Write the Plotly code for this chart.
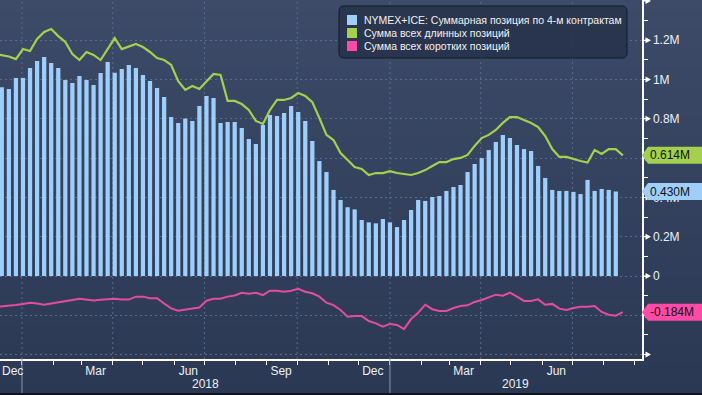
import pandas as pd
import plotly.graph_objects as go

# ---------------- data (millions of contracts) ----------------
DATES = pd.date_range("2017-12-05", "2019-08-20", freq="7D")  # weekly report dates

LONG = [
    1.130, 1.125, 1.117, 1.104,
    1.155, 1.145, 1.206, 1.242, 1.257,
    1.221, 1.191, 1.130, 1.099,
    1.140, 1.125, 1.099, 1.155,
    1.211, 1.155, 1.170, 1.181,
    1.165, 1.140, 1.109, 1.099, 1.074,
    0.992, 0.947, 0.967, 0.952,
    0.992, 1.028, 1.023, 0.891, 0.891,
    0.875, 0.845, 0.789, 0.774,
    0.845, 0.896, 0.896, 0.906,
    0.931, 0.916, 0.885, 0.804, 0.718,
    0.692, 0.626, 0.590, 0.555,
    0.545, 0.514, 0.524, 0.524,
    0.534, 0.524, 0.519, 0.514, 0.524,
    0.539, 0.560, 0.580, 0.580,
    0.595, 0.601, 0.616, 0.662,
    0.702, 0.718, 0.743, 0.779, 0.809,
    0.809, 0.794, 0.779, 0.758,
    0.712, 0.646, 0.606, 0.606,
    0.595, 0.585, 0.577, 0.641, 0.621,
    0.646, 0.646, 0.614,
]

SHORT = [
    -0.158, -0.155, -0.151, -0.148,
    -0.142, -0.136, -0.140, -0.146, -0.140,
    -0.135, -0.129, -0.122, -0.116,
    -0.122, -0.125, -0.121, -0.118,
    -0.116, -0.119, -0.120, -0.105,
    -0.105, -0.113, -0.113, -0.140, -0.165,
    -0.177, -0.170, -0.165, -0.160,
    -0.126, -0.116, -0.116, -0.105, -0.099,
    -0.085, -0.090, -0.085, -0.097,
    -0.075, -0.075, -0.080, -0.075,
    -0.065, -0.080, -0.088, -0.105, -0.136,
    -0.148, -0.173, -0.207, -0.204,
    -0.204, -0.229, -0.241, -0.258,
    -0.244, -0.249, -0.270, -0.219, -0.187,
    -0.146, -0.169, -0.178, -0.178,
    -0.163, -0.153, -0.149, -0.132,
    -0.122, -0.108, -0.095, -0.100, -0.085,
    -0.105, -0.127, -0.127, -0.119,
    -0.146, -0.142, -0.166, -0.173,
    -0.163, -0.156, -0.156, -0.153, -0.183,
    -0.197, -0.202, -0.184,
]

BAR_DATES = DATES[1:-1]
NET = [
    0.960, 0.952, 1.008, 1.008, 1.058, 1.094, 1.115, 1.084, 1.058, 0.997,
    0.982, 1.018, 0.997, 0.972, 1.033, 1.089, 1.035, 1.053, 1.074, 1.058,
    1.023, 0.992, 0.957, 0.911, 0.809, 0.779, 0.801, 0.789, 0.865, 0.916,
    0.906, 0.779, 0.784, 0.784, 0.753, 0.697, 0.672, 0.768, 0.819, 0.814,
    0.830, 0.865, 0.835, 0.789, 0.687, 0.585, 0.529, 0.438, 0.387, 0.350,
    0.339, 0.285, 0.273, 0.268, 0.290, 0.273, 0.249, 0.285, 0.336, 0.387,
    0.382, 0.402, 0.407, 0.433, 0.453, 0.463, 0.529, 0.570, 0.600, 0.641,
    0.682, 0.718, 0.702, 0.667, 0.646, 0.636, 0.560, 0.499, 0.438, 0.433,
    0.433, 0.428, 0.417, 0.489, 0.433, 0.443, 0.438, 0.430,
]

SERIES_NAMES = [
    "NYMEX+ICE: Суммарная позиция по 4-м контрактам",
    "Сумма всех длинных позиций",
    "Сумма всех коротких позиций",
]

Y_TICKS = [-0.4, -0.2, 0, 0.2, 0.4, 0.6, 0.8, 1.0, 1.2, 1.4]
# labels at 0.6M and -0.2M are hidden behind the last-value boxes in the reference
Y_TICK_TEXT = ["", "", "0", "0.2M", "0.4M", "", "0.8M", "1M", "1.2M", ""]

# ---------------- style ----------------
W, H = 702, 395
ML, MR, MT, MB = 0, 60, 0, 36
PW, PH = W - ML - MR, H - MT - MB
X_RANGE = ["2017-12-10 05:00", "2019-09-08"]
Y_RANGE = [-0.4224, 1.4046]

C_BAR = "#9ecffb"
C_LONG = "#a3d14e"
C_SHORT = "#e24d9f"
C_LEG_BAR = "#9ecffb"
C_LEG_LONG = "#a3d14e"
C_LEG_SHORT = "#ff4aa6"
C_GRID = "#5a6c8b"
FONT = "Liberation Sans"
TXT = "#eef0f4"
BG_TOP = (0x3d, 0x4b, 0x68)
BG_BOT = (0x2a, 0x38, 0x54)

fig = go.Figure()

fig.add_trace(go.Bar(x=BAR_DATES, y=NET, marker=dict(color=C_BAR, line=dict(width=0)),
                     name=SERIES_NAMES[0], showlegend=False))
fig.add_trace(go.Scatter(x=DATES, y=LONG, mode="lines", line=dict(color=C_LONG, width=2.2),
                         name=SERIES_NAMES[1], showlegend=False))
fig.add_trace(go.Scatter(x=DATES, y=SHORT, mode="lines", line=dict(color=C_SHORT, width=2),
                         name=SERIES_NAMES[2], showlegend=False))

shapes = []
annotations = []

# background gradient
N = 40
for k in range(N):
    t = (k + 0.5) / N
    col = tuple(round(BG_TOP[i] + (BG_BOT[i] - BG_TOP[i]) * t) for i in range(3))
    py0, py1 = k * H / N, (k + 1) * H / N + 0.6
    shapes.append(dict(type="rect", xref="paper", yref="paper", layer="below",
                       x0=0, x1=W / PW, y0=(PH - py0) / PH, y1=(PH - py1) / PH,
                       fillcolor="rgb(%d,%d,%d)" % col, line=dict(width=0)))

# quarter gridlines
for d in pd.date_range("2018-01-01", "2019-07-01", freq="QS"):
    shapes.append(dict(type="line", xref="x", yref="paper", layer="below",
                       x0=d, x1=d, y0=0, y1=1, line=dict(color=C_GRID, width=1, dash="2px,3px")))

# year separators and year labels
x0d, x1d = pd.Timestamp(X_RANGE[0]), pd.Timestamp(X_RANGE[1])
for yr in [2018, 2019]:
    ys, ye = pd.Timestamp(f"{yr}-01-01"), pd.Timestamp(f"{yr + 1}-01-01")
    shapes.append(dict(type="line", xref="x", yref="paper", x0=ys, x1=ys,
                       y0=0, y1=-34 / PH, line=dict(color="#8a95aa", width=1)))
    a, b = max(ys, x0d), min(ye, x1d)
    annotations.append(dict(x=a + (b - a) / 2, y=-25 / PH, xref="x", yref="paper",
                            text=str(yr), showarrow=False, yanchor="middle",
                            font=dict(family=FONT, size=12, color=TXT)))

# triangles on y-axis major ticks
for v in Y_TICKS:
    shapes.append(dict(type="path", xref="paper", yref="y", xsizemode="pixel", ysizemode="pixel",
                       xanchor=1, yanchor=v,
                       path="M 0,0.5 L 3.5,0.5 L 3.5,3 L 9,0 L 3.5,-3 L 3.5,-0.5 L 0,-0.5 Z",
                       fillcolor="white", line=dict(width=0)))

# last-value label boxes
for val, col in [(LONG[-1], C_LEG_LONG), (NET[-1], C_LEG_BAR), (SHORT[-1], C_LEG_SHORT)]:
    shapes.append(dict(type="path", xref="paper", yref="y", xsizemode="pixel", ysizemode="pixel",
                       xanchor=1, yanchor=val, layer="above",
                       path="M 0,0 L 6,8.5 L 64,8.5 L 64,-8.5 L 6,-8.5 Z",
                       fillcolor=col, line=dict(width=0)))
    annotations.append(dict(x=1, y=val, xref="paper", yref="y", xanchor="left", yanchor="middle",
                            xshift=6, text=f"{val:.3f}M", showarrow=False,
                            font=dict(family=FONT, size=12, color="#111111")))

# legend (drawn manually)
def rrect(x0, y0, x1, y1, r):
    return (f"M {x0 + r},{-y0} L {x1 - r},{-y0} Q {x1},{-y0} {x1},{-y0 - r} "
            f"L {x1},{-y1 + r} Q {x1},{-y1} {x1 - r},{-y1} L {x0 + r},{-y1} "
            f"Q {x0},{-y1} {x0},{-y1 + r} L {x0},{-y0 - r} Q {x0},{-y0} {x0 + r},{-y0} Z")

shapes.append(dict(type="path", xref="paper", yref="paper", xsizemode="pixel", ysizemode="pixel",
                   xanchor=0, yanchor=1, layer="above", path=rrect(339, 6, 627, 58, 5),
                   fillcolor="rgba(40,52,76,0.92)", line=dict(color="#121a29", width=1)))
for i, (name, col) in enumerate(zip(SERIES_NAMES, [C_LEG_BAR, C_LEG_LONG, C_LEG_SHORT])):
    cy = 20 + 13 * i
    shapes.append(dict(type="rect", xref="paper", yref="paper", xsizemode="pixel", ysizemode="pixel",
                       xanchor=0, yanchor=1, layer="above",
                       x0=347, x1=357, y0=-(cy - 5), y1=-(cy + 5),
                       fillcolor=col, line=dict(width=0)))
    annotations.append(dict(x=362 / PW, y=(PH - cy) / PH, xref="paper", yref="paper",
                            xanchor="left", yanchor="middle", text=name, showarrow=False,
                            font=dict(family=FONT, size=10.5, color="#f2f2f2")))

# thin dark strip at the bottom
shapes.append(dict(type="rect", xref="paper", yref="paper", layer="above",
                   x0=0, x1=W / PW, y0=-(H - PH - 2) / PH, y1=-(H - PH + 2) / PH,
                   fillcolor="#10151f", line=dict(width=0)))

month_ticks = pd.date_range("2017-12-01", "2019-08-01", freq="3MS") + pd.Timedelta(days=14)
month_text = [d.strftime("%b") for d in month_ticks]
# first month label would be cut by the left edge: draw it left-aligned at the range start instead
annotations.append(dict(x=X_RANGE[0], y=0, xref="x", yref="paper", xanchor="left", yanchor="top",
                        yshift=-3, text=month_text[0], showarrow=False,
                        font=dict(family=FONT, size=12, color=TXT)))
month_text[0] = ""

fig.update_layout(
    width=W, height=H,
    margin=dict(l=ML, r=MR, t=MT, b=MB, pad=0, autoexpand=False),
    paper_bgcolor="rgb(%d,%d,%d)" % BG_BOT,
    plot_bgcolor="rgba(0,0,0,0)",
    bargap=0.4,
    showlegend=False,
    hovermode=False,
    shapes=shapes,
    annotations=annotations,
    font=dict(family=FONT, size=12, color=TXT),
    xaxis=dict(
        type="date", range=X_RANGE, automargin=False,
        tickmode="array", tickvals=list(month_ticks), ticktext=month_text,
        ticks="outside", ticklen=0, tickcolor="rgba(0,0,0,0)",
        showgrid=False, zeroline=False,
        showline=True, linecolor="white", linewidth=1.5,
        tickfont=dict(family=FONT, size=12, color=TXT),
        minor=dict(tickmode="linear", tick0="2017-12-01", dtick="M1", ticks="outside",
                   ticklen=4, tickcolor="white", tickwidth=1, showgrid=False),
    ),
    yaxis=dict(
        side="right", range=Y_RANGE, automargin=False,
        tickmode="array", tickvals=Y_TICKS, ticktext=Y_TICK_TEXT,
        ticks="outside", ticklen=7, tickcolor="rgba(0,0,0,0)",
        showgrid=True, gridcolor=C_GRID, gridwidth=1, griddash="2px,3px",
        zeroline=False, showline=True, linecolor="white", linewidth=1.5,
        tickfont=dict(family=FONT, size=12, color=TXT),
        minor=dict(tickvals=[round(-0.4 + 0.1 * k, 1) for k in range(19)], ticks="outside",
                   ticklen=4, tickcolor="white", tickwidth=1, showgrid=False),
    ),
)

# the browser's default 8px page margin would shift the figure; remove it
fig.write_html("out.html", config={"displayModeBar": False, "staticPlot": True},
               post_script="document.body.style.margin='0';document.body.style.padding='0';")
